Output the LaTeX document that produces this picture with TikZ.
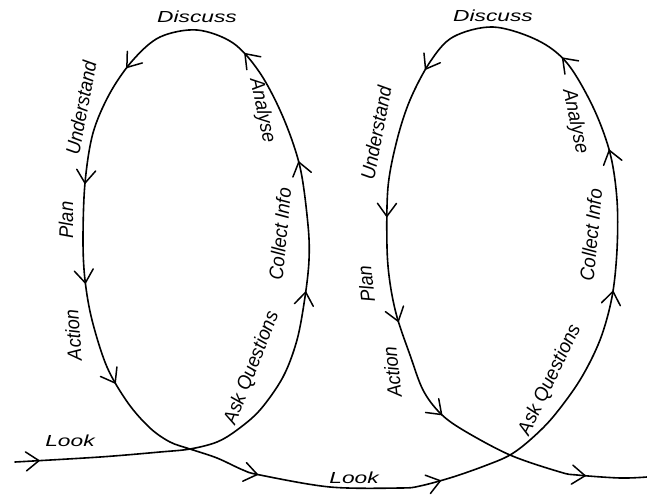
\documentclass[tikz,border=0pt]{standalone}
\usepackage{fontspec}
\setmainfont{Liberation Sans}
\usetikzlibrary{decorations.markings}
\newcommand{\chevron}{\draw[line width=1.5pt, line cap=round, line join=miter] (-13pt,9.5pt) -- (0pt,0pt) -- (-13pt,-9.5pt);}
\tikzset{
  loopline/.style={line width=1.6pt, line cap=round, line join=round},
  lab/.style={font=\fontsize{16}{18}\selectfont\itshape, inner sep=0pt},
  vlab/.style={lab, xscale=1.24, yscale=1.15},
  hlab/.style={lab, xscale=1.42},
  chevs/.style={decoration={markings,
    mark=at position 24pt with {\chevron},
    mark=at position 386pt with {\chevron},
    mark=at position 517pt with {\chevron},
    mark=at position 639pt with {\chevron},
    mark=at position 777pt with {\chevron},
    mark=at position 902pt with {\chevron},
    mark=at position 1002pt with {\chevron},
    mark=at position 1107pt with {\chevron},
    mark=at position 1282pt with {\chevron},
    mark=at position 1467pt with {\chevron},
    mark=at position 1740pt with {\chevron},
    mark=at position 1882pt with {\chevron},
    mark=at position 1986pt with {\chevron},
    mark=at position 2148pt with {\chevron},
    mark=at position 2302pt with {\chevron},
    mark=at position 2408pt with {\chevron},
    mark=at position 2512pt with {\chevron},
    mark=at position 2670pt with {\chevron}
  }, postaction={decorate}},
}
\begin{document}
\begin{tikzpicture}[x=1pt, y=-1pt]
\path[use as bounding box, fill=white] (0,0) rectangle (647,495);

\draw[loopline, chevs] plot[smooth, tension=0.55] coordinates {
 (15,462) (100,457) (160,452) (190,449) (217,442) (237,430) (260,410)
 (283,377) (297,340) (305,297) (309,260) (308,225) (300,167) (283,117)
 (260,73) (233,43) (197,30) (160,37) (133,60) (110,93) (93,133)
 (85,183) (83,240) (85,280) (92,320) (107,367) (128,403) (150,428)
 (170,442) (190,449) (217,458) (243,470) (260,475) (330,487) (400,488)
 (420,486) (453,477) (487,465) (510,455) (530,440) (553,417) (580,380)
 (600,340) (612,297) (617,250) (617,200) (610,153) (593,107) (567,63)
 (537,40) (493,27) (453,37) (430,62) (410,100) (397,140) (388,187)
 (387,247) (390,283) (397,317) (410,355) (423,390) (440,413) (463,430)
 (510,455) (560,472) (577,475) (620,478) (647,477)};

% left loop labels
\node[hlab] (lookA) at (70,441) {Look};
\node[vlab, rotate=70] (askA) at (252,368) {Ask Questions};
\node[vlab, rotate=85] (collA) at (280,234) {Collect Info};
\node[vlab, rotate=-79] (anaA) at (262,111) {Analyse};
\node[hlab] (discA) at (197,17) {Discuss};
\node[vlab, rotate=80] (undA) at (81,108) {Understand};
\node[vlab, rotate=90] (planA) at (66,220) {Plan};
\node[vlab, rotate=94] (actA) at (73,335) {Action};
% bottom look
\node[hlab] (lookB) at (354,478) {Look};
% right loop labels
\node[vlab, rotate=66] (askB) at (550,380) {Ask Questions};
\node[vlab, rotate=85] (collB) at (591,235) {Collect Info};
\node[vlab, rotate=-79] (anaB) at (575,122) {Analyse};
\node[hlab] (discB) at (493,16) {Discuss};
\node[vlab, rotate=80] (undB) at (376,133) {Understand};
\node[vlab, rotate=96] (planB) at (366,284) {Plan};
\node[vlab, rotate=96] (actB) at (392,372) {Action};
\end{tikzpicture}
\end{document}
